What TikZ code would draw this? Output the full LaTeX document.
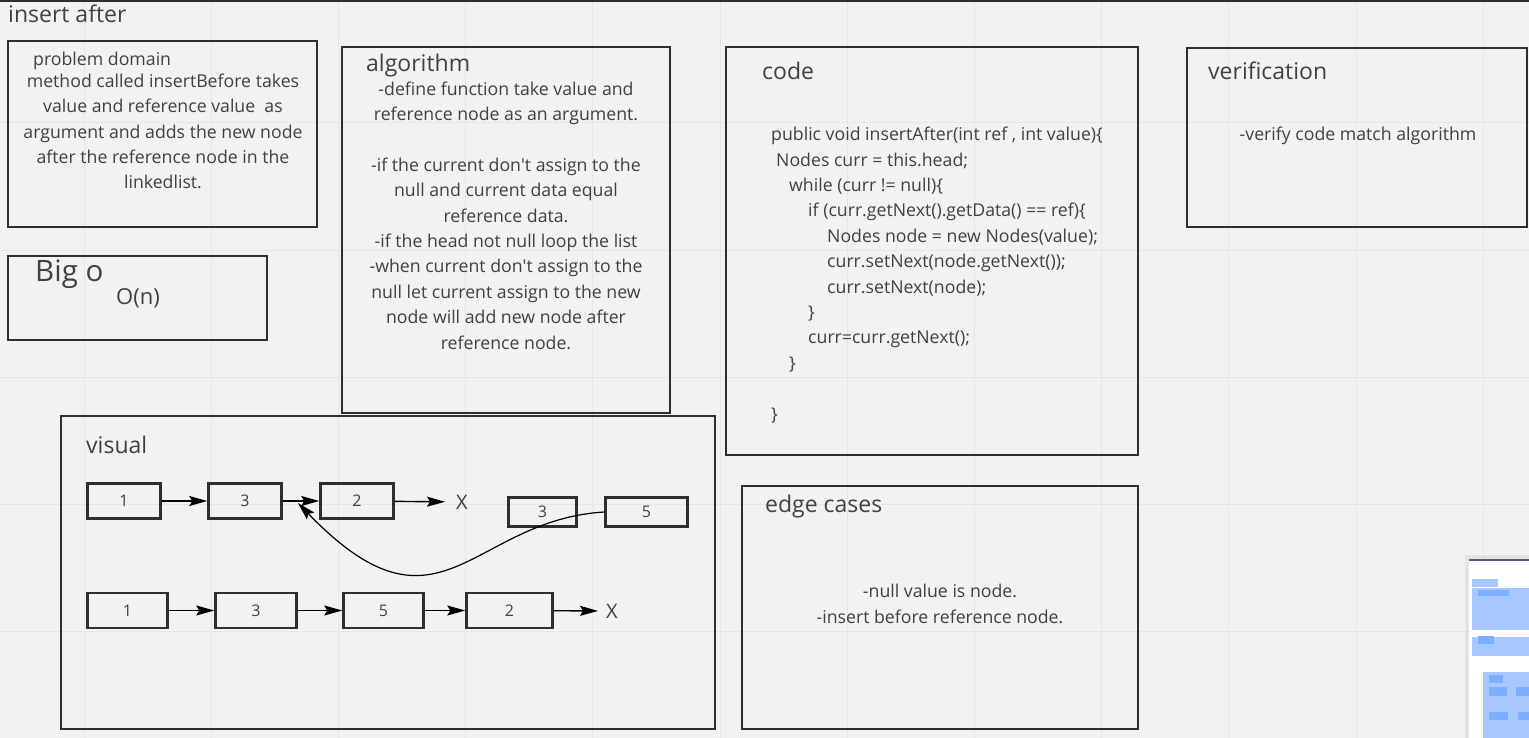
\documentclass[tikz,border=0pt]{standalone}
\usepackage{fontspec}
\setmainfont{Open Sans}
\usetikzlibrary{arrows.meta}

\definecolor{boardBg}{HTML}{F2F2F2}
\definecolor{gridLine}{HTML}{E6E6E6}
\definecolor{frameLine}{HTML}{2E2E2E}
\definecolor{inkText}{HTML}{404040}
\definecolor{mapFrame}{HTML}{5A5A78}
\definecolor{mapBlue}{HTML}{A6C8FF}
\definecolor{mapBlueDark}{HTML}{7DAEFF}

\begin{document}
\begin{tikzpicture}
[
	x=1pt, y=-1pt,
	panel/.style={draw=frameLine, line width=2.5pt},
	headText/.style={text=inkText, anchor=base west, inner sep=0pt, font=\fontsize{23}{26}\selectfont},
	bodyText/.style={text=inkText, inner sep=0pt, align=center, font=\fontsize{17.7}{25.4}\selectfont},
	codeText/.style={text=inkText, inner sep=0pt, align=left, anchor=base west, font=\fontsize{17.7}{25.4}\selectfont},
	listNode/.style={draw=frameLine, line width=2.5pt, minimum height=35pt, inner sep=0pt, text=inkText, font=\fontsize{16}{18}\selectfont},
	nullMark/.style={text=inkText, inner sep=0pt, font=\fontsize{20}{24}\selectfont},
	nextArrow/.style={line width=1.4pt, draw=black, -{Stealth[length=18pt,width=10pt,inset=3pt]}}
]

% Board and grid
\fill[boardBg] (0,0) rectangle (1529,738);
\useasboundingbox (0,0) rectangle (1529,738);
\foreach \gx in {0,...,11}
	\draw[gridLine, line width=1pt] ({84+127.2*\gx},0) -- ({84+127.2*\gx},738);
\foreach \gy in {0,...,4}
	\draw[gridLine, line width=1pt] (0,{123+127.2*\gy}) -- (1529,{123+127.2*\gy});
\draw[frameLine, line width=2pt] (0,1) -- (1529,1);

% Frames
\draw[panel] (8,41) rectangle (317,227);
\draw[panel] (8,256) rectangle (267,340);
\draw[panel] (342,47) rectangle (670,413);
\draw[panel] (726,47) rectangle (1138,455);
\draw[panel] (1187,48) rectangle (1527,227);
\draw[panel] (61,416) rectangle (715,729);
\draw[panel] (742,486) rectangle (1138,729);

% Title
\node[headText] (title) at (8,23) {insert after};

% Problem domain
\node[bodyText, anchor=base west] (pdHead) at (33,66) {problem domain};
\node[bodyText, anchor=base] (pdBody) at (163,189) {method called insertBefore takes\\ value and reference value\ \ as\\ argument and adds the new node\\ after the reference node in the\\ linkedlist.};

% Big o
\node[text=inkText, inner sep=0pt, anchor=base west, font=\fontsize{29.5}{32}\selectfont] (bigHead) at (35,281) {Big o};
\node[text=inkText, inner sep=0pt, anchor=base west, font=\fontsize{22}{24}\selectfont] (bigValue) at (116,304) {O(n)};

% Algorithm
\node[headText] (algoHead) at (366,72) {algorithm};
\node[bodyText, anchor=base] (algoBody) at (506,349) {-define function take value and\\ reference node as an argument.\\ ~\\ -if the current don\textquotesingle t assign to the\\ null and current data equal\\ reference data.\\ -if the head not null loop the list\\ -when current don\textquotesingle t assign to the\\ null let current assign to the new\\ node will add new node after\\ reference node.};

% Code
\node[headText] (codeHead) at (762,80) {code};
\node[codeText] (codeBody) at (771,420) {public void insertAfter(int ref , int value)\{\\
\hspace*{5pt}Nodes curr = this.head;\\
\hspace*{18pt}while (curr != null)\{\\
\hspace*{37pt}if (curr.getNext().getData() == ref)\{\\
\hspace*{56pt}Nodes node = new Nodes(value);\\
\hspace*{56pt}curr.setNext(node.getNext());\\
\hspace*{56pt}curr.setNext(node);\\
\hspace*{37pt}\}\\
\hspace*{37pt}curr=curr.getNext();\\
\hspace*{18pt}\}\\
~\\
\}};

% Verification
\node[headText] (verHead) at (1208,80) {verification};
\node[bodyText, anchor=base] (verBody) at (1358,141) {-verify code match algorithm};

% Edge cases
\node[headText] (edgeHead) at (765,512) {edge cases};
\node[bodyText, anchor=base] (edgeBody) at (940,623) {-null value is node.\\ -insert before reference node.};

% Visual
\node[headText] (visHead) at (86,453) {visual};

% List before insert
\node[listNode, minimum width=73pt] (topOne) at (124,501) {1};
\node[listNode, minimum width=73pt] (topThree) at (245,501) {3};
\node[listNode, minimum width=73pt] (topTwo) at (357,501) {2};
\node[nullMark] (topNull) at (462,502) {X};
\node[listNode, minimum width=68pt, minimum height=29pt] (newThree) at (542.5,512) {3};
\node[listNode, minimum width=82pt, minimum height=29pt] (newFive) at (646.5,512) {5};
\coordinate (joinTip) at (298,503);

\draw[nextArrow] (topOne) -- (topThree);
\draw[nextArrow] (topThree) -- (topTwo);
\draw[nextArrow, shorten >=11pt] (topTwo) -- (topNull);
\draw[nextArrow, line width=1.2pt] (newFive.west) .. controls (470,520) and (440,650) .. (joinTip);

% List after insert
\node[listNode, minimum width=80pt] (botOne) at (127.5,610.5) {1};
\node[listNode, minimum width=81pt] (botThree) at (256,610.5) {3};
\node[listNode, minimum width=80pt] (botFive) at (383.5,610.5) {5};
\node[listNode, minimum width=86pt] (botTwo) at (509.5,610.5) {2};
\node[nullMark] (botNull) at (612,611) {X};

\draw[nextArrow] (botOne) -- (botThree);
\draw[nextArrow] (botThree) -- (botFive);
\draw[nextArrow] (botFive) -- (botTwo);
\draw[nextArrow, shorten >=8pt] (botTwo) -- (botNull);

% Minimap
\fill[black, opacity=0.06] (1465,555) rectangle (1529,738);
\fill[white] (1469,559) rectangle (1529,738);
\draw[mapFrame, line width=2.5pt] (1469,560) -- (1529,560);
\fill[mapBlue] (1472,579) rectangle (1498,587);
\fill[mapBlue] (1472,588) rectangle (1529,630);
\fill[mapBlueDark] (1478,590) rectangle (1509,596);
\fill[mapBlue] (1472,637) rectangle (1529,656);
\fill[mapBlueDark] (1478,636) rectangle (1494,644);
\fill[mapBlue] (1483,672) rectangle (1529,738);
\fill[mapBlueDark] (1489,675) rectangle (1503,683);
\fill[mapBlueDark] (1489,687) rectangle (1507,696);
\fill[mapBlueDark] (1516,687) rectangle (1529,696);
\fill[mapBlueDark] (1489,712) rectangle (1508,720);
\fill[mapBlueDark] (1518,712) rectangle (1529,720);

\end{tikzpicture}
\end{document}
